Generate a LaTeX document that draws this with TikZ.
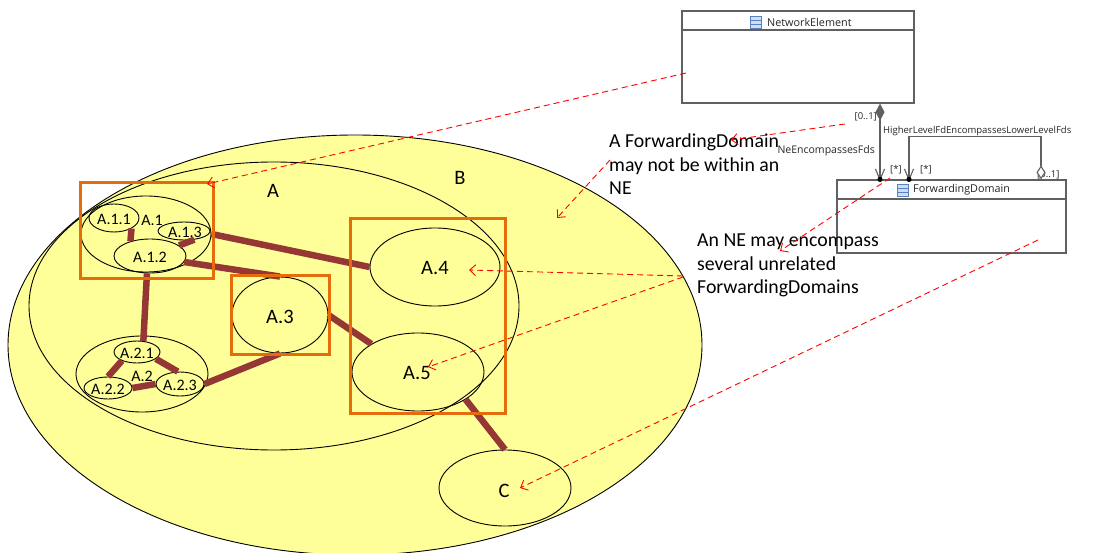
\documentclass[tikz,border=0pt]{standalone}
\usepackage{fontspec}
\setmainfont{Carlito}
\newfontfamily\umlfont{Open Sans}
\usetikzlibrary{arrows.meta,calc,shapes.geometric}

\definecolor{fdyellow}{RGB}{255,255,153}
\definecolor{boxorange}{RGB}{228,108,10}
\definecolor{linkbrown}{RGB}{149,55,53}
\definecolor{umlgray}{RGB}{96,96,96}
\definecolor{iconblue}{RGB}{90,130,190}
\definecolor{iconfill}{RGB}{205,222,242}

\tikzset{
  fdomain/.style={draw=black, line width=0.9pt, ellipse, inner sep=0pt},
  biglabel/.style={font=\fontsize{20.5}{24}\selectfont},
  smalllabel/.style={font=\fontsize{16}{19}\selectfont},
  link/.style={draw=linkbrown, line width=6.5pt},
  fdbox/.style={draw=boxorange, line width=3pt},
  note/.style={font=\fontsize{19.8}{23.5}\selectfont, align=left, inner sep=0pt},
  hint/.style={draw=red, line width=0.9pt, dash pattern=on 6pt off 4pt,
    -{Straight Barb[length=6pt,width=11pt,line width=0.9pt]}},
  umlbox/.style={draw=umlgray, line width=1.2pt, rectangle, inner sep=0pt},
  umlline/.style={draw=umlgray, line width=1.1pt},
  umltext/.style={font=\umlfont\fontsize{9.5}{11}\selectfont, text=black!85, inner sep=0pt},
  umltitle/.style={font=\umlfont\fontsize{10.8}{12}\selectfont, text=black!85, inner sep=0pt},
}

\newcommand{\classicon}[1]{%
  \draw[draw=iconblue, fill=iconfill, line width=0.6pt] ($(#1)+(-5.5,-6)$) rectangle ($(#1)+(5.5,6)$);
  \draw[draw=iconblue, line width=0.6pt] ($(#1)+(-5.5,-1.5)$) -- ($(#1)+(5.5,-1.5)$)
        ($(#1)+(-5.5,2.5)$) -- ($(#1)+(5.5,2.5)$);
}

\begin{document}
\begin{tikzpicture}[x=1pt, y=-1pt]
\useasboundingbox (0,0) rectangle (1102,553);
\fill[white] (0,0) rectangle (1102,553);

% ---- domains ----
\node[fdomain, fill=fdyellow, minimum width=694pt, minimum height=420pt] (B) at (355,345) {};
\node[fdomain, minimum width=490pt, minimum height=288pt] (A) at (274,306) {};

\node[fdomain, minimum width=130pt, minimum height=76pt] (a1) at (146,234) {};
\node[fdomain, minimum width=50pt, minimum height=28pt] (a11) at (114,218) {};
\node[fdomain, minimum width=52pt, minimum height=18pt] (a13) at (184,231) {};
\node[fdomain, minimum width=72pt, minimum height=34pt] (a12) at (150,256) {};

\node[fdomain, minimum width=132pt, minimum height=76pt] (a2) at (142,374) {};
\node[fdomain, minimum width=46pt, minimum height=22pt] (a21) at (137,352) {};
\node[fdomain, minimum width=48pt, minimum height=22pt] (a22) at (108,388) {};
\node[fdomain, minimum width=48pt, minimum height=24pt] (a23) at (180,384) {};

\node[fdomain, minimum width=96pt, minimum height=76pt] (a3) at (280,315) {};
\node[fdomain, minimum width=130pt, minimum height=78pt] (a4) at (435,267) {};
\node[fdomain, minimum width=132pt, minimum height=78pt] (a5) at (418,372) {};
\node[fdomain, minimum width=132pt, minimum height=76pt] (c) at (505,488) {};

% ---- labels ----
\node[biglabel] (lA) at (273,191) {A};
\node[biglabel] (lB) at (460,178) {B};
\node[biglabel] (l3) at (280,317) {A.3};
\node[biglabel] (l4) at (435,268) {A.4};
\node[biglabel] (l5) at (417,373) {A.5};
\node[biglabel] (lC) at (504,491) {C};
\node[smalllabel] (l1) at (152,220) {A.1};
\node[smalllabel] (l11) at (114,219) {A.1.1};
\node[smalllabel] (l13) at (185,232) {A.1.3};
\node[smalllabel] (l12) at (150,257) {A.1.2};
\node[smalllabel] (l2) at (142,376) {A.2};
\node[smalllabel] (l21) at (137,353) {A.2.1};
\node[smalllabel] (l22) at (108,389) {A.2.2};
\node[smalllabel] (l23) at (180,385) {A.2.3};

% ---- links ----
\draw[link] (a11.-31) -- (a12.143);
\draw[link] (a12.20) -- (a13.-40);
\draw[link] (a1.east) -- (a4.west);
\draw[link] (a12.-10) -- (a3.north);
\draw[link] (a12.-100) -- (a21.60);
\draw[link] (a21.-150) -- (a22.north);
\draw[link] (a21.-20) -- (a23.100);
\draw[link] (a22.east) -- (a23.west);
\draw[link] (a23.east) -- (a3.south);
\draw[link] (a3.east) -- (a5.149);
\draw[link] (a5.-30) -- (c.north);

% ---- forwarding domain boxes ----
\draw[fdbox] (80,183) rectangle (213,278);
\draw[fdbox] (231,275) rectangle (329,354);
\draw[fdbox] (350,219) rectangle (505,413);

% ---- UML classes ----
\node[umlbox, fill=white, minimum width=232pt, minimum height=92pt] (ne) at (798,57) {};
\draw[umlgray, line width=1.2pt] (682,30) -- (914,30);
\node[umltitle, anchor=west] (netitle) at (767,22) {NetworkElement};
\classicon{756,22}

\node[umlbox, fill=white, minimum width=229pt, minimum height=73pt] (fd) at (951.5,216.5) {};
\draw[umlgray, line width=1.2pt] (837,199) -- (1066,199);
\node[umltitle, anchor=west] (fdtitle) at (913,190) {ForwardingDomain};
\classicon{903,190}

% NE encompasses FDs
\draw[umlline, {Diamond[length=17pt,width=9pt,fill=umlgray]}-{Straight Barb[length=11pt,width=9pt,line width=1.1pt]}]
  ([xshift=82pt]ne.south) -- ([xshift=82pt,yshift=-2pt]ne.south |- fd.north);
\fill[black] ([xshift=82pt]ne.south |- fd.north) circle (2.6pt);
\node[umltext, anchor=east] (m01) at (877,117) {[0..1]};
\node[umltext, font=\umlfont\fontsize{10.5}{12}\selectfont, anchor=east] (nefd) at (875,151) {NeEncompassesFds};
\node[umltext, anchor=west] (m1) at (890,170) {[*]};

% higher level FD encompasses lower level FDs
\node[umltext, anchor=west] (m02) at (1037,175) {[0..1]};
\draw[umlline, {Diamond[open,length=14pt,width=9pt,fill=white]}-{Straight Barb[length=11pt,width=9pt,line width=1.1pt]}]
  ([xshift=89.5pt]fd.north) -- ++(0,-43) -| ([xshift=-42.5pt,yshift=-2pt]fd.north);
\fill[black] ([xshift=-42.5pt]fd.north) circle (2.6pt);
\node[umltext, anchor=west] (hl) at (883,131) {HigherLevelFdEncompassesLowerLevelFds};
\node[umltext, anchor=west] (m2) at (920,170) {[*]};

% ---- notes ----
\node[note, anchor=north west] (n1) at (609,134) {A ForwardingDomain\\may not be within an\\NE};
\node[note, anchor=north west] (n2) at (697,234) {An NE may encompass\\several unrelated\\ForwardingDomains};

% ---- hint arrows ----
\coordinate (r1s) at (686,73);  \coordinate (r1e) at (207,184);
\coordinate (r2s) at (845,124); \coordinate (r2e) at (731,140);
\coordinate (r3s) at (610,160); \coordinate (r3e) at (557,218);
\coordinate (r4s) at (890,178); \coordinate (r4e) at (780,251);
\coordinate (r5s) at (683,276); \coordinate (r5e) at (469,270);
\coordinate (r6s) at (683,277); \coordinate (r6e) at (428,367);
\coordinate (r7s) at (1038,240); \coordinate (r7e) at (520,488);
\draw[hint] (r1s) -- (r1e);
\draw[hint] (r2s) -- (r2e);
\draw[hint] (r3s) -- (r3e);
\draw[hint] (r4s) -- (r4e);
\draw[hint] (r5s) -- (r5e);
\draw[hint] (r6s) -- (r6e);
\draw[hint] (r7s) -- (r7e);
\end{tikzpicture}
\end{document}
